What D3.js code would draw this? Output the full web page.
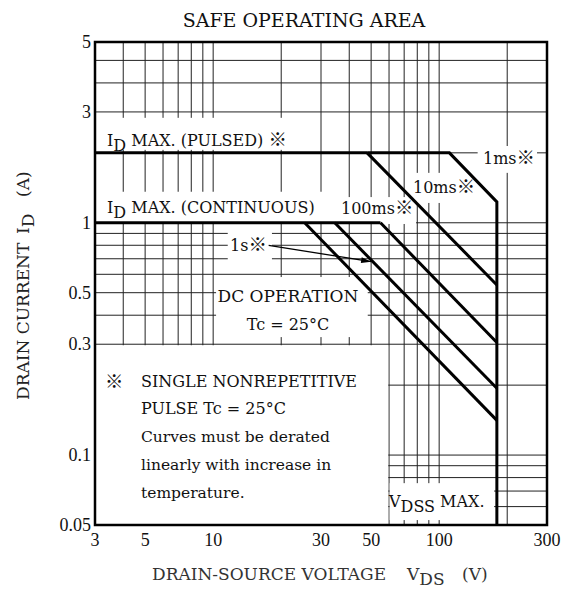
<!DOCTYPE html>
<html>
<head>
<meta charset="utf-8">
<script src="https://cdn.jsdelivr.net/npm/d3@7"></script>
<style>
  body { margin: 0; background: #fff; }
  text { font-family: "DejaVu Serif", "Liberation Serif", serif; fill: #111; }
  .tick { font-family: "Liberation Serif", serif; }
  .kome { font-family: "Noto Sans CJK JP", "DejaVu Sans", sans-serif; font-size: 1.15em; }
</style>
</head>
<body>
<div id="chart"></div>
<script>
// tick values and labels (the sheet prints "5" on the top edge)
var xTicks = [3, 5, 10, 30, 50, 100, 300];
var yTicks = [0.05, 0.1, 0.3, 0.5, 1, 3, 6];
var yTickLabels = ["0.05", "0.1", "0.3", "0.5", "1", "3", "5"];

// grid lines
var xGrid = [4, 5, 6, 7, 8, 9, 10, 20, 30, 40, 50, 60, 70, 80, 90, 100, 200];
var yGrid = [0.06, 0.07, 0.08, 0.09, 0.1, 0.2, 0.3, 0.4, 0.5, 0.6, 0.7, 0.8, 0.9, 1, 2, 3, 4, 5];

// limit lines, [V, A]
var idPulsed = [[3, 2], [48, 2]];
var curve1ms = [[48, 2], [111, 2], [180, 1.23], [180, 0.05]];
var curve10ms = [[48, 2], [180, 0.54]];
var idContinuous = [[3, 1], [55, 1]];
var curve100ms = [[55, 1], [180, 0.305]];
var curve1s = [[34.5, 1], [180, 0.194]];
var curveDC = [[25.4, 1], [180, 0.141]];

var svgWidth = 569, svgHeight = 590;

var svg = d3.select("#chart")
  .append("svg")
  .attr("width", svgWidth)
  .attr("height", svgHeight);

var xScale = d3.scaleLog().domain([3, 300]).range([95, 547]);
var yScale = d3.scaleLog().domain([0.05, 6]).range([525, 42]);

var x0 = xScale.range()[0], x1 = xScale.range()[1];
var yTop = yScale.range()[1], yBot = yScale.range()[0];

// grid
svg.append("g").selectAll("line")
  .data(xGrid).enter().append("line")
  .attr("x1", d => xScale(d)).attr("x2", d => xScale(d))
  .attr("y1", yTop).attr("y2", yBot)
  .attr("stroke", "#222").attr("stroke-width", 1);

svg.append("g").selectAll("line")
  .data(yGrid).enter().append("line")
  .attr("x1", x0).attr("x2", x1)
  .attr("y1", d => yScale(d)).attr("y2", d => yScale(d))
  .attr("stroke", "#222").attr("stroke-width", 1);

// white boxes behind the labels, [V0, V1, A0, A1]
var masks = [
  [3, 22.3, 2.06, 2.83],      // I_D MAX (PULSED)
  [148, 271, 1.64, 2.14],     // 1ms
  [74.5, 146, 1.217, 1.64],   // 10ms
  [3, 35, 0.988, 1.36],       // I_D MAX (CONTINUOUS)
  [35, 79, 0.988, 1.29],      // 100ms
  [11.6, 18.2, 0.685, 0.922], // 1s
  [10.3, 48.3, 0.322, 0.584], // DC OPERATION
  [3, 59.5, 0.05, 0.297],     // note
  [60.4, 175, 0.0525, 0.0757] // VDSS MAX
];
svg.append("g").selectAll("rect")
  .data(masks).enter().append("rect")
  .attr("x", d => xScale(d[0]))
  .attr("width", d => xScale(d[1]) - xScale(d[0]))
  .attr("y", d => yScale(d[3]))
  .attr("height", d => yScale(d[2]) - yScale(d[3]))
  .attr("fill", "#fff");

// limit lines
var line = d3.line().x(d => xScale(d[0])).y(d => yScale(d[1]));
[idPulsed, curve1ms, curve10ms, idContinuous, curve100ms, curve1s, curveDC].forEach(function(c) {
  svg.append("path")
    .attr("d", line(c))
    .attr("fill", "none")
    .attr("stroke", "#000")
    .attr("stroke-width", 3)
    .attr("stroke-linejoin", "miter");
});

// frame
svg.append("rect")
  .attr("x", x0).attr("y", yTop)
  .attr("width", x1 - x0).attr("height", yBot - yTop)
  .attr("fill", "none").attr("stroke", "#000").attr("stroke-width", 2.5);

// tick labels
svg.append("g").selectAll("text")
  .data(yTicks).enter().append("text")
  .attr("class", "tick")
  .attr("x", x0 - 4)
  .attr("y", d => yScale(d) + 6)
  .attr("text-anchor", "end")
  .attr("font-size", 18)
  .text((d, i) => yTickLabels[i]);

svg.append("g").selectAll("text")
  .data(xTicks).enter().append("text")
  .attr("class", "tick")
  .attr("x", d => xScale(d))
  .attr("y", 546)
  .attr("text-anchor", "middle")
  .attr("font-size", 18)
  .text(d => d);

// text with subscripts: parts starting with "_" go down, "※" gets its own font
function label(x, y, parts, size, anchor, color) {
  var t = svg.append("text")
    .attr("x", x).attr("y", y)
    .attr("font-size", size)
    .attr("text-anchor", anchor || "start")
    .style("fill", color || "#111");
  var low = false;
  parts.forEach(function(p) {
    var sub = p[0] === "_";
    var s = t.append("tspan").text(sub ? p.slice(1) : p);
    if (p === "※") s.attr("class", "kome");
    if (sub && !low) { s.attr("dy", 5); low = true; }
    else if (!sub && low) { s.attr("dy", -5); low = false; }
  });
  return t;
}

label(304, 27, ["SAFE OPERATING AREA"], 19, "middle");

label(107, 146, ["I", "_D", " MAX. (PULSED) ", "※"], 16);
label(107, 213, ["I", "_D", " MAX. (CONTINUOUS)"], 16);
label(341, 214, ["100ms", "※"], 16);
label(413, 193, ["10ms", "※"], 16);
label(483, 164, ["1ms", "※"], 16);
label(230, 251, ["1s", "※"], 16);
label(288, 302, ["DC OPERATION"], 17, "middle");
label(288, 330, ["Tc = 25°C"], 16, "middle");

label(105, 388, ["※"], 16);
label(141, 387, ["SINGLE NONREPETITIVE"], 16);
label(141, 414, ["PULSE Tc = 25°C"], 16);
label(141, 442, ["Curves must be derated"], 15.5);
label(141, 470, ["linearly with increase in"], 15.5);
label(141, 498, ["temperature."], 15.5);

label(389, 507, ["V", "_DSS", " MAX."], 16);

// 1s arrow
var a0 = [xScale(17.6), yScale(0.8)], a1 = [xScale(50), yScale(0.68)];
svg.append("line")
  .attr("x1", a0[0]).attr("y1", a0[1])
  .attr("x2", a1[0]).attr("y2", a1[1])
  .attr("stroke", "#000").attr("stroke-width", 1.3);
var ang = Math.atan2(a1[1] - a0[1], a1[0] - a0[0]) * 180 / Math.PI;
svg.append("path")
  .attr("d", "M0,0 L-10,-3 L-10,3 Z")
  .attr("transform", `translate(${a1[0]},${a1[1]}) rotate(${ang})`)
  .attr("fill", "#000");

// axis titles
label(152, 580, ["DRAIN-SOURCE VOLTAGE"], 17, "start", "#333");
label(407, 580, ["V", "_DS"], 17, "start", "#333");
label(462, 580, ["(V)"], 17, "start", "#333");

var yTitle = svg.append("g").attr("transform", "translate(29,0) rotate(-90)");
yTitle.append("text").attr("x", -400).attr("y", 0).attr("font-size", 17)
  .style("fill", "#222").text("DRAIN CURRENT");
var idT = yTitle.append("text").attr("x", -234).attr("y", 0).attr("font-size", 17).style("fill", "#222");
idT.append("tspan").text("I");
idT.append("tspan").attr("dy", 5).text("D");
yTitle.append("text").attr("x", -197).attr("y", 0).attr("font-size", 17)
  .style("fill", "#222").text("(A)");
</script>
</body>
</html>
